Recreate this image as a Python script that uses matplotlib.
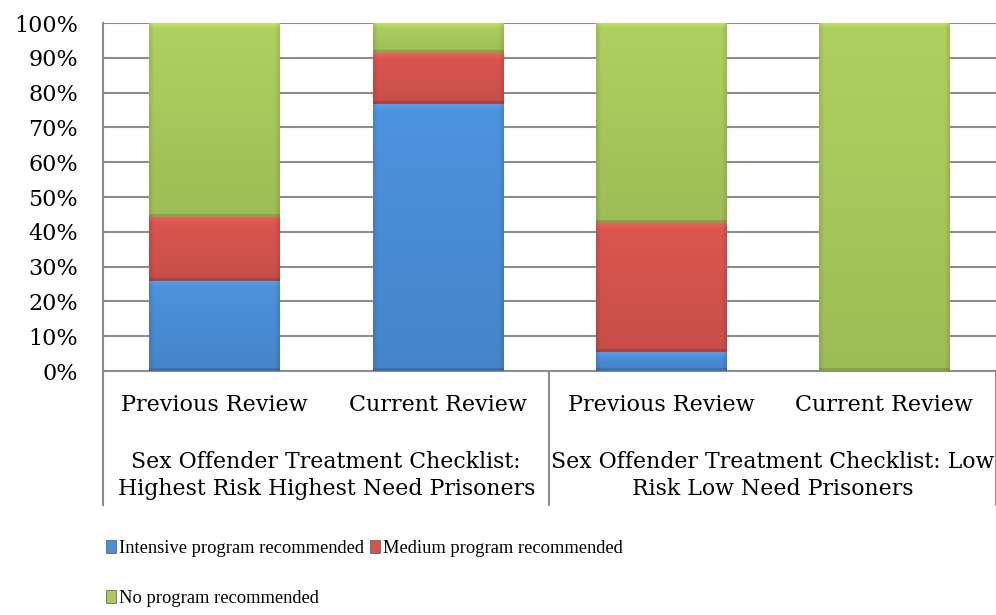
import numpy as np
import matplotlib
matplotlib.use('Agg')
import matplotlib.pyplot as plt
from matplotlib.patches import Patch
from matplotlib.colors import to_rgb

plt.rcParams['font.family'] = ['DejaVu Serif']

# data (percent)
reviews = ['Previous Review', 'Current Review', 'Previous Review', 'Current Review']
groups = ['Sex Offender Treatment Checklist:\nHighest Risk Highest Need Prisoners',
          'Sex Offender Treatment Checklist: Low\nRisk Low Need Prisoners']
intensive = [25.9, 76.7, 5.5, 0.0]
medium = [18.4, 14.6, 36.9, 0.0]
no_program = [55.7, 8.7, 57.6, 100.0]
series_names = ['Intensive program recommended', 'Medium program recommended', 'No program recommended']
series_colors = ['#4A8DD6', '#D4534D', '#A8C95C']

fig = plt.figure(figsize=(9.96, 6.15), dpi=100)
ax = fig.add_axes([0.1034, 0.3967, 0.8966, 0.5659])
ax.set_xlim(-0.5, 3.5)
ax.set_ylim(0, 100)

width = 0.585
x = np.arange(len(reviews))


def shaded(color, w_px, h_px):
    # bevel-like shading: soft vertical gradient, darker sides, light top band
    base = np.array(to_rgb(color))
    h = max(int(round(h_px)), 2)
    w = max(int(round(w_px)), 2)
    yy = np.linspace(0, 1, h)[:, None]
    xx = np.linspace(0, 1, w)[None, :]
    f = 1.04 - 0.10 * yy
    edge = np.minimum(xx, 1 - xx) * w
    f = f * np.where(edge < 5, 0.90 + 0.02 * edge, 1.0)
    top = np.arange(h)[:, None] * np.ones((1, w))
    f = np.where(top < 6, f + 0.10 * (1 - top / 6), f)
    f = np.where(top >= h - 3, f * 0.86, f)
    return np.clip(base[None, None, :] * f[:, :, None], 0, 1)


fig.canvas.draw()
bottoms = np.zeros(len(reviews))
for vals, col in zip([intensive, medium, no_program], series_colors):
    for i, v in enumerate(vals):
        if v <= 0:
            continue
        x0, x1 = x[i] - width / 2, x[i] + width / 2
        y0, y1 = bottoms[i], bottoms[i] + v
        p0 = ax.transData.transform((x0, y0))
        p1 = ax.transData.transform((x1, y1))
        img = shaded(col, p1[0] - p0[0], p1[1] - p0[1])
        ax.imshow(img, extent=(x0, x1, y0, y1), aspect='auto', zorder=3,
                  interpolation='bilinear')
    bottoms += np.array(vals)

ax.set_xlim(-0.5, 3.5)
ax.set_ylim(0, 100)

# grid and spines
ax.set_yticks(np.arange(0, 101, 10))
ax.set_yticklabels([f'{t}%' for t in range(0, 101, 10)], fontsize=16)
ax.yaxis.grid(True, color='#8C8C8C', linewidth=1.5, zorder=0)
ax.set_axisbelow(True)
ax.tick_params(axis='y', length=0, pad=18)
ax.set_xticks([])
for s in ['top', 'right']:
    ax.spines[s].set_visible(False)
for s in ['left', 'bottom']:
    ax.spines[s].set_color('#8C8C8C')
    ax.spines[s].set_linewidth(1.5)

# multi-level category labels
for i, r in enumerate(reviews):
    ax.text(x[i], -9.9, r, ha='center', va='center', fontsize=16, clip_on=False)
for g, lab in enumerate(groups):
    ax.text(2 * g + 0.5, -30.0, lab, ha='center', va='center', fontsize=15.8,
            linespacing=1.3, clip_on=False)
for xs in [-0.5, 1.5, 3.5]:
    ax.plot([xs, xs], [0, -38.5], color='#8C8C8C', linewidth=1.5, clip_on=False)

# legend
handles = [Patch(facecolor=c, edgecolor='#555555', linewidth=0.5) for c in series_colors]
order = [0, 2, 1]
fig.legend([handles[k] for k in order], [series_names[k] for k in order],
           ncol=2, loc='upper left', bbox_to_anchor=(0.1064, 0.122),
           frameon=False, handlelength=0.55, handleheight=0.7,
           handletextpad=0.17, columnspacing=0.3, labelspacing=1.8,
           borderaxespad=0, borderpad=0,
           prop={'family': 'Liberation Serif', 'size': 13.3})

fig.savefig('out.png', dpi=100)
